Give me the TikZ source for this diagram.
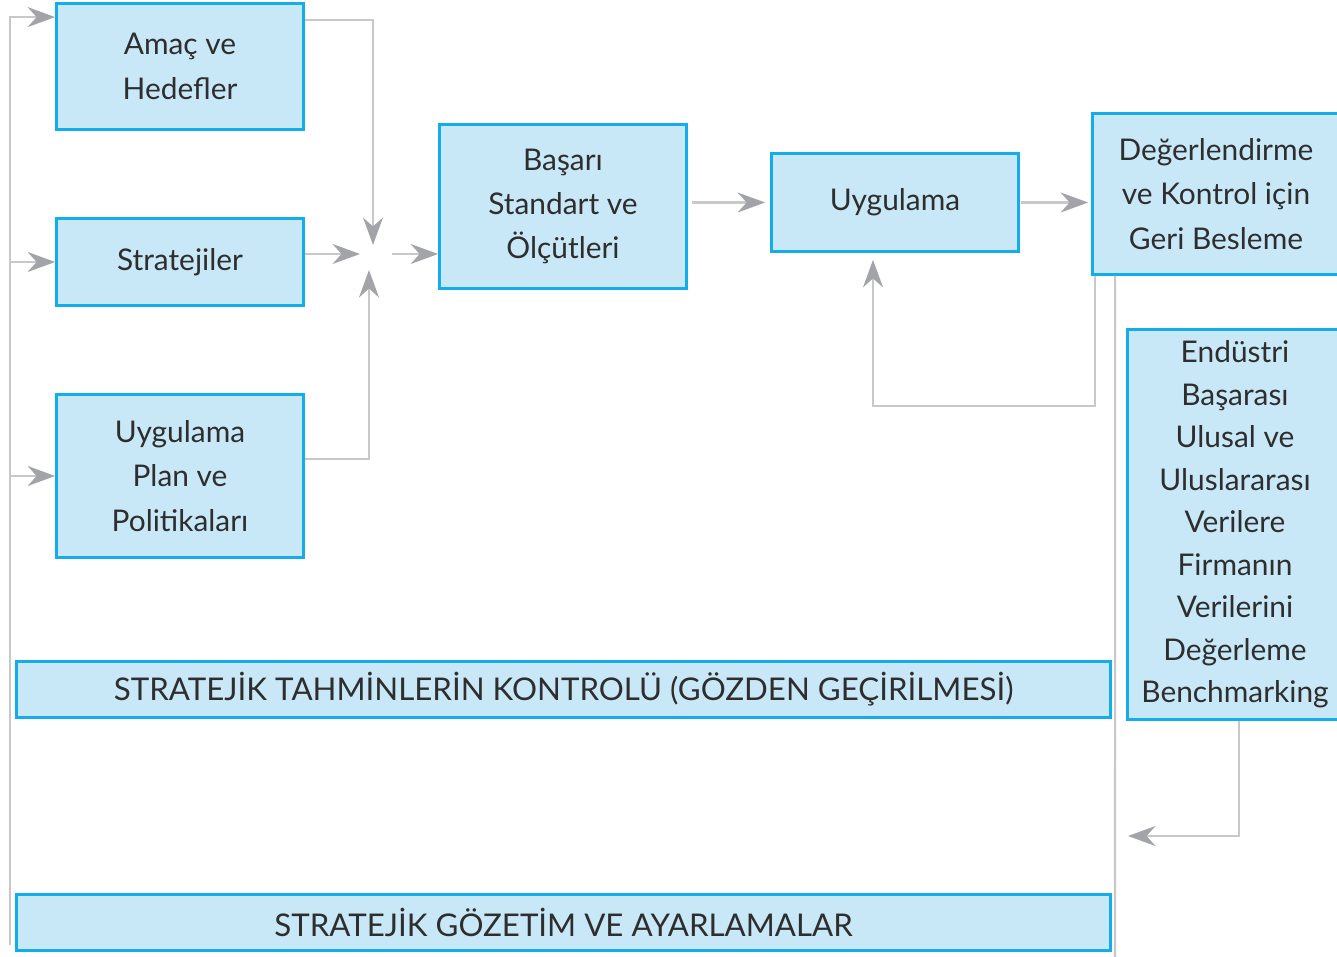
\documentclass[tikz,border=0pt]{standalone}
\usepackage{fontspec}
\setmainfont{Lato}
\usetikzlibrary{arrows.meta}
\definecolor{Cyan}{HTML}{12ADEA}
\definecolor{LightCyan}{HTML}{C8E8F8}
\definecolor{LineGray}{HTML}{C8C8CA}
\definecolor{TipGray}{HTML}{A3A4A9}
\definecolor{TextGray}{HTML}{2E2E2E}

\tikzset{
  box/.style={draw=Cyan,fill=LightCyan,line width=1.6pt,align=center,
    text=TextGray,font=\fontsize{17}{25.3}\selectfont,inner sep=2pt},
  bar/.style={box,font=\fontsize{17.8}{25.3}\selectfont,
    minimum width=21.88cm,minimum height=1.12cm},
  link/.style={draw=LineGray,line width=1.2pt,
    -{Stealth[length=5.5mm,width=4mm,inset=1.8mm,color=TipGray]}},
  plain/.style={draw=LineGray,line width=1.2pt}
}

\begin{document}
\begin{tikzpicture}[x=0.02cm,y=-0.02cm]
  \useasboundingbox (0,0) rectangle (1337,956);
  \clip (0,0) rectangle (1337,956);

  % left column
  \node[box,minimum width=4.94cm,minimum height=2.52cm] (amac) at (180,66.5) {Amaç ve\\Hedefler};
  \node[box,minimum width=4.94cm,minimum height=1.74cm] (strateji) at (180,262) {Stratejiler};
  \node[box,minimum width=4.94cm,minimum height=3.26cm] (politika) at (180,476) {Uygulama\\Plan ve\\Politikaları};

  % top row
  \node[box,minimum width=4.94cm,minimum height=3.28cm] (basari) at (563,206.5) {Başarı\\Standart ve\\Ölçütleri};
  \node[box,minimum width=4.94cm,minimum height=1.96cm] (uygulama) at (895,202.5) {Uygulama};
  \node[box,minimum width=4.94cm,minimum height=3.22cm] (geribesleme) at (1216,194) {Değerlendirme\\ve Kontrol için\\Geri Besleme};
  \node[box,minimum width=4.30cm,minimum height=7.80cm,font=\fontsize{17}{24.2}\selectfont] (endustri) at (1235,524.5)
    {Endüstri\\Başarası\\Ulusal ve\\Uluslararası\\Verilere\\Firmanın\\Verilerini\\Değerleme\\Benchmarking};

  % wide bars
  \node[bar] (tahmin) at (563.5,689.5) {STRATEJİK TAHMİNLERİN KONTROLÜ (GÖZDEN GEÇİRİLMESİ)};
  \node[bar] (gozetim) at (563.5,922.5) {STRATEJİK GÖZETİM VE AYARLAMALAR};

  % junction points
  \coordinate (jtop) at (373,245);
  \coordinate (jleft) at (360,254);
  \coordinate (jbot) at (369,270);
  \coordinate (jout) at (392,254);
  \coordinate (left) at (10,945);
  \coordinate (fb) at (873,406);
  \coordinate (rbot) at (1115,960);
  \coordinate (btip) at (1128,836);

  % connectors
  \draw[link] (left) |- ([yshift=-0.3cm]amac.north west);
  \draw[link] (left |- strateji.west) -- (strateji.west);
  \draw[link] (left |- politika.west) -- (politika.west);
  \draw[link] ([yshift=-0.36cm]amac.north east) -| (jtop);
  \draw[link] (strateji.east |- jleft) -- (jleft);
  \draw[link] ([yshift=0.34cm]politika.east) -| (jbot);
  \draw[link] (jout) -- (basari.west |- jout);
  \draw[link] ([xshift=0.08cm]basari.east |- uygulama.west) -- ([xshift=-0.1cm]uygulama.west);
  \draw[link] ([xshift=0.02cm]uygulama.east) -- ([xshift=-0.06cm]geribesleme.west |- uygulama.east);
  \draw[link] ([xshift=0.08cm]geribesleme.south west) |- (fb) -- ([yshift=-0.14cm]uygulama.south -| fb);
  \draw[plain] ([xshift=0.48cm]geribesleme.south west) -- (rbot);
  \draw[link] ([xshift=0.08cm]endustri.south) |- (btip);
\end{tikzpicture}
\end{document}
